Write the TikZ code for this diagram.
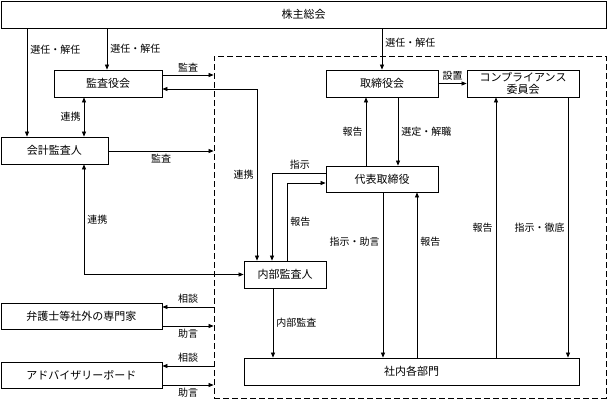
\documentclass[tikz,border=0pt]{standalone}
\usepackage{fontspec}
\setmainfont{Noto Sans CJK JP}
\usetikzlibrary{arrows.meta}

\begin{document}
\begin{tikzpicture}[x=1pt,y=-1pt,
  box/.style={draw,line width=.8pt,fill=white,inner sep=1pt,minimum height=27pt,
    font=\fontsize{11}{12.5}\selectfont},
  frame/.style={draw,line width=.8pt,dash pattern=on 6pt off 3pt},
  edgelabel/.style={inner sep=3pt,font=\fontsize{10}{11}\selectfont},
  link/.style={line width=.7pt,-{Triangle[length=5pt,width=4pt]}},
  twolink/.style={line width=.7pt,{Triangle[length=5pt,width=4pt]}-{Triangle[length=5pt,width=4pt]}}]
\useasboundingbox (0,0) rectangle (608,400);
\node[frame,minimum width=392,minimum height=342] (inside) at (410,227) {};
\node[box,minimum width=605] (kabu) at (303.5,14.5) {株主総会};
\node[box,minimum width=108] (kansayaku) at (108,83.5) {監査役会};
\node[box,minimum width=107] (kaikei) at (54.5,150.5) {会計監査人};
\node[box,minimum width=112] (torishimari) at (382,83.5) {取締役会};
\node[box,minimum width=112,align=center] (comp) at (523,83.5) {コンプライアンス\\委員会};
\node[box,minimum width=112,minimum height=26] (daihyo) at (382,179) {代表取締役};
\node[box,minimum width=82] (naibu) at (285,274.5) {内部監査人};
\node[box,minimum width=335] (shanai) at (411.5,371.5) {社内各部門};
\node[box,minimum width=161,minimum height=26] (bengoshi) at (81.5,316) {弁護士等社外の専門家};
\node[box,minimum width=161,minimum height=26] (advisory) at (81.5,375) {アドバイザリーボード};
\draw[link] (kabu.south -| 27,0) -- node[edgelabel,pos=.2,right] {選任・解任} (kaikei.north -| 27,0);
\draw[link] (kabu.south -| 107,0) -- node[edgelabel,right] {選任・解任} (kansayaku.north -| 107,0);
\draw[link] (kabu.south -| torishimari.north) -- node[edgelabel,pos=.35,right] {選任・解任} (torishimari.north);
\draw[link] (kansayaku.east |- 0,75) -- node[edgelabel,above] {監査} (inside.west |- 0,75);
\draw[twolink] (kansayaku.south -| 84,0) -- node[edgelabel,left] {連携} (kaikei.north -| 84,0);
\draw[twolink] (kansayaku.east |- 0,89) -| node[edgelabel,pos=.75,left] {連携} (naibu.north -| 257,0);
\draw[link] (kaikei.east |- 0,151) -- node[edgelabel,below] {監査} (inside.west |- 0,151);
\draw[twolink] (kaikei.south -| 84,0) |- node[edgelabel,pos=.25,right] {連携} (naibu.west);
\draw[link] (torishimari.east) -- node[edgelabel,above] {設置} (comp.west);
\draw[link] (daihyo.north -| 366,0) -- node[edgelabel,left] {報告} (torishimari.south -| 366,0);
\draw[link] (torishimari.south -| 398,0) -- node[edgelabel,right] {選定・解職} (daihyo.north -| 398,0);
\draw[link] (daihyo.west |- 0,173) -| node[edgelabel,pos=.24,above] {指示} (naibu.north -| 272,0);
\draw[link] (naibu.north -| 287,0) |- node[edgelabel,pos=.25,right] {報告} (daihyo.west |- 0,183);
\draw[link] (daihyo.south -| 383,0) -- node[edgelabel,pos=.3,left] {指示・助言} (shanai.north -| 383,0);
\draw[link] (shanai.north -| 417,0) -- node[edgelabel,pos=.7,right] {報告} (daihyo.south -| 417,0);
\draw[link] (shanai.north -| 496,0) -- node[edgelabel,left] {報告} (comp.south -| 496,0);
\draw[link] (comp.south -| 568,0) -- node[edgelabel,left] {指示・徹底} (shanai.north -| 568,0);
\draw[link] (naibu.south -| 273,0) -- node[edgelabel,right] {内部監査} (shanai.north -| 273,0);
\draw[link] (inside.west |- 0,307) -- node[edgelabel,above] {相談} (bengoshi.east |- 0,307);
\draw[link] (bengoshi.east |- 0,326) -- node[edgelabel,below] {助言} (inside.west |- 0,326);
\draw[link] (inside.west |- 0,366) -- node[edgelabel,above] {相談} (advisory.east |- 0,366);
\draw[link] (advisory.east |- 0,385) -- node[edgelabel,below] {助言} (inside.west |- 0,385);
\end{tikzpicture}
\end{document}
